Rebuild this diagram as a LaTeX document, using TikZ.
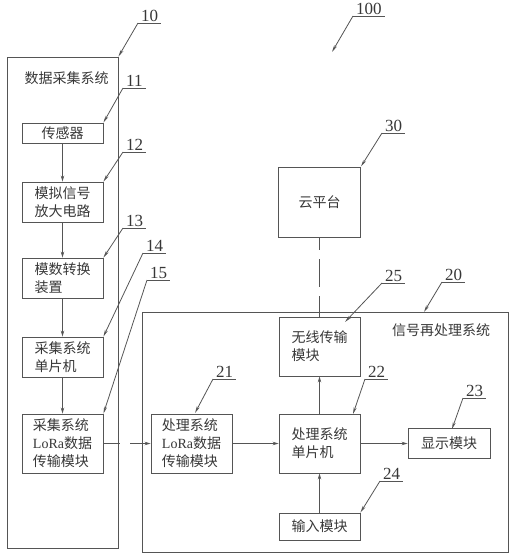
\documentclass[tikz,border=0pt]{standalone}
\usepackage{fontspec}
\setmainfont{Liberation Serif}
\newfontfamily\cjk{Noto Sans CJK SC}
\usepackage{xcolor}
\definecolor{lnclr}{RGB}{85,85,85}
\definecolor{txclr}{RGB}{55,55,55}
\usetikzlibrary{arrows.meta}
\tikzset{
  sysbox/.style={draw=lnclr, line width=0.9pt, inner sep=0pt},
  unit/.style={draw=lnclr, line width=0.9pt, align=left, inner sep=0pt, text=txclr, font=\cjk\fontsize{14}{18}\selectfont},
  title/.style={text=txclr, inner sep=0pt, font=\cjk\fontsize{14}{18}\selectfont},
  refno/.style={anchor=south west, inner xsep=3pt, inner ysep=1pt, text=txclr, font=\fontsize{17}{17}\selectfont},
  uline/.style={draw=lnclr, line width=0.8pt},
  lead/.style={-{Stealth[length=7pt,width=3pt]}, draw=lnclr, line width=0.8pt},
  arr/.style={-{Stealth[length=6pt,width=3.5pt]}, draw=lnclr, line width=0.8pt},
  link/.style={arr, dash pattern=on 17pt off 10pt on 40pt off 5pt},
  wire/.style={draw=lnclr, line width=0.9pt, dash pattern=on 28pt off 9pt, dash phase=15pt}
}
\begin{document}
\begin{tikzpicture}[x=1pt, y=-1pt]
  \useasboundingbox (0,0) rectangle (513,556);
  % data acquisition system
  \node[sysbox, minimum width=111, minimum height=491] (b10) at (62.5,302.5) {};
  \node[title] (t10) at (66.5,78) {数据采集系统};
  \node[unit, minimum width=81, minimum height=20] (b11) at (62.5,133) {传感器};
  \node[unit, minimum width=81, minimum height=40] (b12) at (62.5,202) {模拟信号\\放大电路};
  \node[unit, minimum width=81, minimum height=40] (b13) at (62.5,278) {模数转换\\装置};
  \node[unit, minimum width=81, minimum height=40] (b14) at (62.5,357) {采集系统\\单片机};
  \node[unit, minimum width=81, minimum height=59] (b15) at (62.5,443.5) {采集系统\\{\rmfamily LoRa}数据\\传输模块};
  % signal reprocessing system
  \node[sysbox, minimum width=366, minimum height=240] (b20) at (325,432) {};
  \node[title] (t20) at (441,330) {信号再处理系统};
  \node[unit, minimum width=81, minimum height=59] (b21) at (191.5,443.5) {处理系统\\{\rmfamily LoRa}数据\\传输模块};
  \node[unit, minimum width=81, minimum height=59] (b22) at (319.5,443.5) {处理系统\\单片机};
  \node[unit, minimum width=82, minimum height=30] (b23) at (449,443.5) {显示模块};
  \node[unit, minimum width=81, minimum height=27] (b24) at (319.5,526.5) {输入模块};
  \node[unit, minimum width=81, minimum height=59] (b25) at (319.5,346.5) {无线传输\\模块};
  % cloud
  \node[unit, minimum width=82, minimum height=70] (b30) at (319.5,202) {云平台};

  \draw[arr] (b11) -- (b12);
  \draw[arr] (b12) -- (b13);
  \draw[arr] (b13) -- (b14);
  \draw[arr] (b14) -- (b15);
  \draw[link] (b15) -- (b21);
  \draw[arr] (b21) -- (b22);
  \draw[arr] (b22) -- (b23);
  \draw[arr] (b24) -- (b22);
  \draw[arr] (b22) -- (b25);
  \draw[wire] (b30) -- (b25);

  % reference numbers
  \node[refno] (n100) at (353,16) {100};
  \node[refno] (n10) at (138,23) {10};
  \node[refno] (n11) at (123,88) {11};
  \node[refno] (n12) at (123,152) {12};
  \node[refno] (n13) at (123,228) {13};
  \node[refno] (n14) at (143,253) {14};
  \node[refno] (n15) at (147,280) {15};
  \node[refno] (n20) at (442,282) {20};
  \node[refno] (n21) at (213,379) {21};
  \node[refno] (n22) at (365,379) {22};
  \node[refno] (n23) at (463,398) {23};
  \node[refno] (n24) at (380,481) {24};
  \node[refno] (n25) at (382,283) {25};
  \node[refno] (n30) at (382,133) {30};
  \coordinate (p100) at (332,52);
  \coordinate (p20) at (424,312);
  \coordinate (p21) at (195,413);
  \coordinate (p22) at (353,414);
  \coordinate (p23) at (452,429);
  \coordinate (p25) at (345,322);
  \draw[uline] (n100.south west) -- (n100.south east);
  \draw[uline] (n10.south west) -- (n10.south east);
  \draw[uline] (n11.south west) -- (n11.south east);
  \draw[uline] (n12.south west) -- (n12.south east);
  \draw[uline] (n13.south west) -- (n13.south east);
  \draw[uline] (n14.south west) -- (n14.south east);
  \draw[uline] (n15.south west) -- (n15.south east);
  \draw[uline] (n20.south west) -- (n20.south east);
  \draw[uline] (n21.south west) -- (n21.south east);
  \draw[uline] (n22.south west) -- (n22.south east);
  \draw[uline] (n23.south west) -- (n23.south east);
  \draw[uline] (n24.south west) -- (n24.south east);
  \draw[uline] (n25.south west) -- (n25.south east);
  \draw[uline] (n30.south west) -- (n30.south east);
  \draw[lead] (n100.south west) -- (p100);
  \draw[lead] (n10.south west) -- (b10.north east);
  \draw[lead] (n11.south west) -- (b11.north east);
  \draw[lead] (n12.south west) -- (b12.north east);
  \draw[lead] (n13.south west) -- (b13.north east);
  \draw[lead] (n14.south west) -- (b14.north east);
  \draw[lead] (n15.south west) -- (b15.north east);
  \draw[lead] (n20.south west) -- (p20);
  \draw[lead] (n21.south west) -- (p21);
  \draw[lead] (n22.south west) -- (p22);
  \draw[lead] (n23.south west) -- (p23);
  \draw[lead] (n24.south west) -- (b24.north east);
  \draw[lead] (n25.south west) -- (p25);
  \draw[lead] (n30.south west) -- (b30.north east);
\end{tikzpicture}
\end{document}
